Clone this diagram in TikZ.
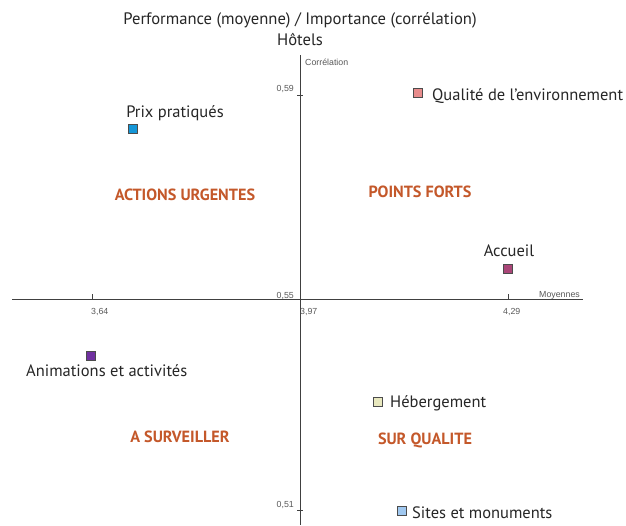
\documentclass[tikz,border=0pt]{standalone}
\usepackage{fontspec}
\setmainfont{PT Sans}
\newfontfamily\axisfont{Liberation Sans}
\begin{document}
\begin{tikzpicture}[x=1pt,y=-1pt,
  axisline/.style={draw=black!75, line width=0.8pt},
  tickline/.style={draw=black!75, line width=0.6pt},
  ticklbl/.style={font=\axisfont\fontsize{8.8}{10}\selectfont, text=black!65, inner sep=0pt},
  lbl/.style={font=\fontsize{16.5}{18}\selectfont, text=black!85, inner sep=0pt},
  quad/.style={font=\bfseries\fontsize{16.2}{18}\selectfont, text={rgb,255:red,196;green,88;blue,42}, inner sep=0pt},
  ptbox/.style={draw=black!70, line width=0.5pt, minimum size=9pt, inner sep=0pt},
  titletxt/.style={font=\fontsize{16.6}{18}\selectfont, text=black!85, inner sep=0pt}
]
\useasboundingbox[fill=white] (0,0) rectangle (626,525);
% titles
\node[titletxt] (t1) at (300,20) {Performance (moyenne) / Importance (corrélation)};
\node[titletxt] (t2) at (300,40) {Hôtels};
% axes
\coordinate (vtop) at (300,55);
\coordinate (vbot) at (300,525);
\coordinate (hleft) at (12,299);
\coordinate (hright) at (583,299);
\draw[axisline] (vtop) -- (vbot);
\draw[axisline] (hleft) -- (hright);
% ticks
\coordinate (tx1a) at (92,294); \coordinate (tx1b) at (92,299);
\coordinate (tx2a) at (508,294); \coordinate (tx2b) at (508,299);
\coordinate (ty1a) at (297,95); \coordinate (ty1b) at (303,95);
\coordinate (ty2a) at (297,510); \coordinate (ty2b) at (303,510);
\draw[tickline] (tx1a) -- (tx1b);
\draw[tickline] (tx2a) -- (tx2b);
\draw[tickline] (ty1a) -- (ty1b);
\draw[tickline] (ty2a) -- (ty2b);
% tick labels
\node[ticklbl, anchor=west] (corr) at (305,62) {Corrélation};
\node[ticklbl, anchor=east] (y59) at (294,89) {0,59};
\node[ticklbl, anchor=east] (y55) at (294,296) {0,55};
\node[ticklbl, anchor=east] (y51) at (294,505) {0,51};
\node[ticklbl, anchor=west] (x64) at (91,312) {3,64};
\node[ticklbl, anchor=west] (x97) at (300,312) {3,97};
\node[ticklbl, anchor=west] (x29) at (503,312) {4,29};
\node[ticklbl, anchor=west] (moy) at (539,295) {Moyennes};
% quadrant labels
\node[quad] (q1) at (185,195) {ACTIONS URGENTES};
\node[quad] (q2) at (420,192) {POINTS FORTS};
\node[quad] (q3) at (180,437) {A SURVEILLER};
\node[quad] (q4) at (425,440) {SUR QUALITE};
% points
\node[ptbox, fill={rgb,255:red,232;green,140;blue,140}] (p1) at (418,93) {};
\node[lbl, anchor=west] (l1) at (432,96) {Qualité de l'environnement};
\node[ptbox, fill={rgb,255:red,20;green,150;blue,215}] (p2) at (133,129) {};
\node[lbl] (l2) at (175,113) {Prix pratiqués};
\node[ptbox, fill={rgb,255:red,170;green,70;blue,120}] (p3) at (508,269) {};
\node[lbl] (l3) at (509,251) {Accueil};
\node[ptbox, fill={rgb,255:red,112;green,48;blue,160}] (p4) at (91,356) {};
\node[lbl, anchor=west] (l4) at (26,371) {Animations et activités};
\node[ptbox, fill={rgb,255:red,232;green,232;blue,190}] (p5) at (378,402) {};
\node[lbl, anchor=west] (l5) at (390,403) {Hébergement};
\node[ptbox, fill={rgb,255:red,160;green,200;blue,240}] (p6) at (402,511) {};
\node[lbl, anchor=west] (l6) at (412,513) {Sites et monuments};
\end{tikzpicture}
\end{document}
